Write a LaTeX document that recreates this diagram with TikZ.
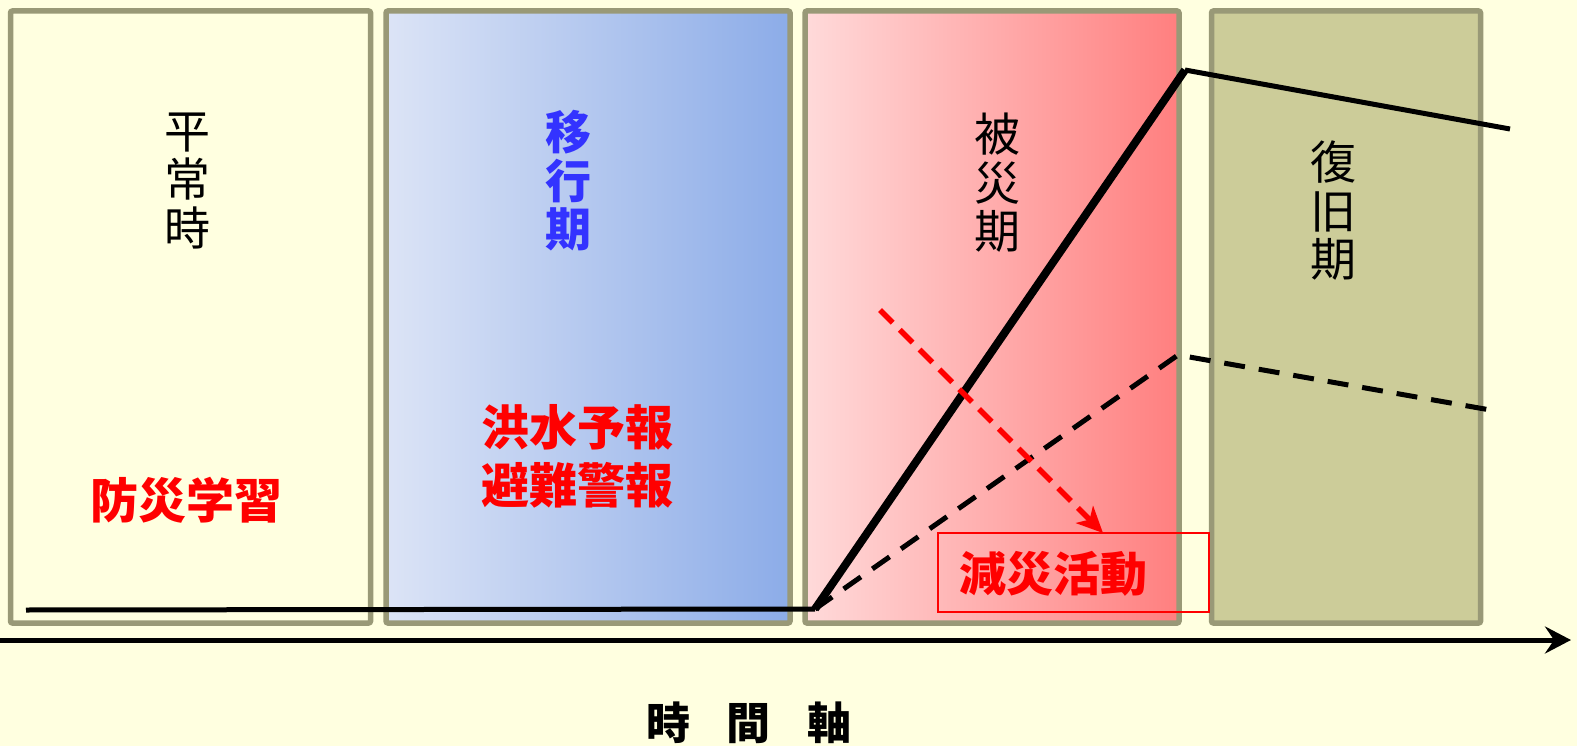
\documentclass[tikz,border=0pt]{standalone}
\usepackage{fontspec}
\newfontfamily\jp{Noto Sans CJK JP}
\usetikzlibrary{arrows.meta}
\definecolor{bg}{HTML}{FFFFE0}
\definecolor{frame}{HTML}{999977}
\definecolor{blueA}{HTML}{DCE4F6}
\definecolor{blueB}{HTML}{8CACE8}
\definecolor{redA}{HTML}{FFDADA}
\definecolor{redB}{HTML}{FF7F7F}
\definecolor{olive}{HTML}{CCCC99}
\definecolor{tblue}{HTML}{3333FF}
\begin{document}
\begin{tikzpicture}[x=1pt,y=-1pt,
  period/.style={draw=frame, line width=5.5pt, rounded corners=2pt, inner sep=0pt, outer sep=0pt},
  vlabel/.style={align=center, font=\jp\fontsize{46}{48.5}\selectfont, inner sep=0pt},
  redlabel/.style={text=red, font=\jp\bfseries\fontsize{48}{58}\selectfont, align=center, inner sep=0pt},
  axisline/.style={line width=5pt, -{Stealth[length=26pt,width=27pt,inset=9pt]}},
  curve/.style={line width=5pt},
  riseline/.style={line width=8pt},
  dashline/.style={line width=5pt, dash pattern=on 21pt off 14pt},
  redarrow/.style={red, line width=5.5pt, dash pattern=on 18pt off 10pt, -{Stealth[length=26pt,width=24pt,inset=7pt]}},
]
\fill[bg] (0,0) rectangle (1577,746);
\useasboundingbox (0,0) rectangle (1577,746);

\node[period, fill=bg, minimum width=360pt, minimum height=612pt] (p1) at (190.5,317) {};
\node[period, left color=blueA, right color=blueB, minimum width=404pt, minimum height=612pt] (p2) at (588,317) {};
\node[period, left color=redA, right color=redB, minimum width=374pt, minimum height=612pt] (p3) at (992,317) {};
\node[period, fill=olive, minimum width=269pt, minimum height=612pt] (p4) at (1346,317) {};

\node[vlabel] (l1) at (187,181) {平\\常\\時};
\node[vlabel, text=tblue, font=\jp\bfseries\fontsize{46}{48.5}\selectfont] (l2) at (568,181) {移\\行\\期};
\node[vlabel] (l3) at (997,183) {被\\災\\期};
\node[vlabel] (l4) at (1333,211) {復\\旧\\期};

\node[redlabel] (b1) at (186,500) {防災学習};
\node[redlabel] (b2) at (577,456) {洪水予報\\避難警報};

\node[draw=red, line width=2pt, minimum width=271pt, minimum height=79pt, inner sep=0pt] (actbox) at (1073.5,572.5) {};
\node[redlabel, font=\jp\bfseries\fontsize{47}{58}\selectfont] (act) at (1053,574) {減災活動};

\coordinate (s0) at (26,610);
\coordinate (s1) at (815,609);
\coordinate (s2) at (1185,70);
\coordinate (s3) at (1510,129);
\coordinate (d1) at (1178,355);
\coordinate (d2) at (1496,411);
\coordinate (r0) at (880,310);
\coordinate (r1) at (1103,533);
\coordinate (a0) at (0,640);
\coordinate (a1) at (1571,640);

\draw[dashline] (s1) -- (d1) -- (d2);
\draw[curve] (s0) -- (s1);
\draw[riseline] (s1) -- (s2);
\draw[curve] (s2) -- (s3);
\draw[redarrow] (r0) -- (r1);
\draw[axisline] (a0) -- (a1);

\node[font=\jp\bfseries\fontsize{44}{44}\selectfont, inner sep=0pt] (ax) at (749,723) {時\hspace{37pt}間\hspace{37pt}軸};
\end{tikzpicture}
\end{document}
